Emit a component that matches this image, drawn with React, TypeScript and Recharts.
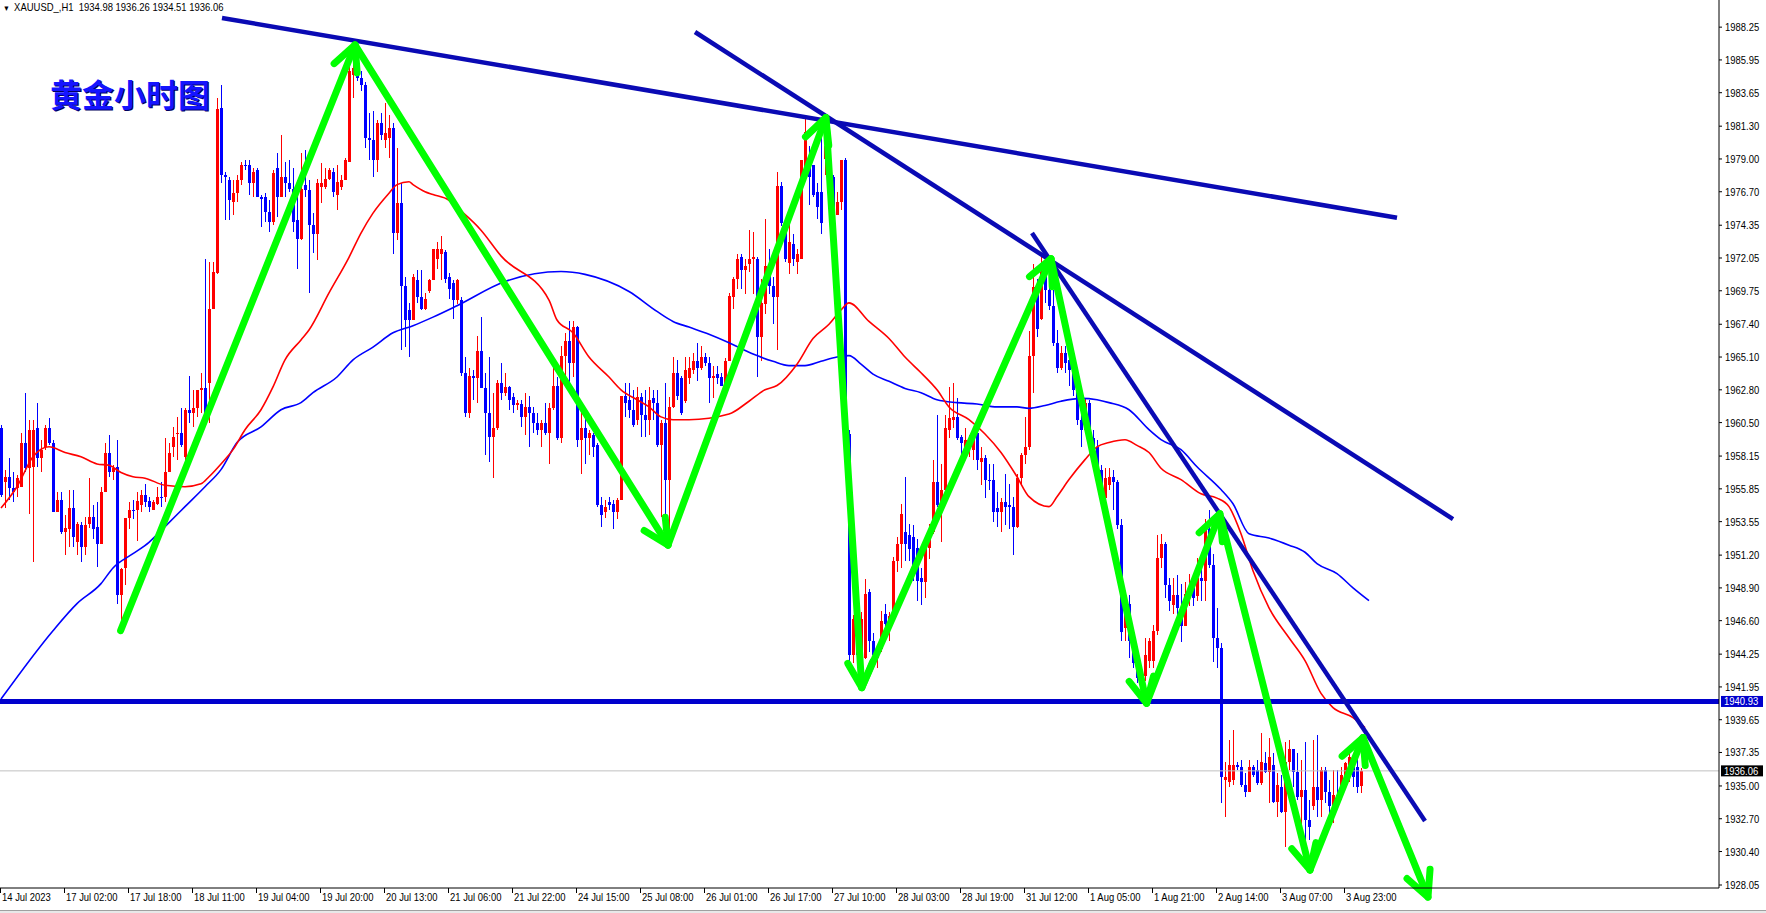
import React from 'react';
import { ComposedChart, Bar, Line, XAxis, YAxis, ReferenceLine } from 'recharts';

const CHART_W = 1766;
const CHART_H = 913;
const AXIS_FONT = "'Liberation Sans', 'DejaVu Sans', sans-serif";
const NARROW = 0.86; // the terminal font is narrower than anything installed

// H1 bars: [open, high, low, close]
const bars: [number, number, number, number][] = [
  [1960.1, 1960.3, 1955.3, 1955.4], [1956.3, 1957.2, 1954.5, 1956.7], [1956.7, 1958.0, 1955.1, 1955.9], [1955.9, 1957.0, 1954.9, 1955.6],
  [1955.9, 1956.8, 1955.3, 1956.6], [1956.0, 1959.8, 1956.0, 1959.1], [1959.1, 1962.6, 1957.0, 1957.3], [1957.3, 1960.7, 1954.1, 1960.0],
  [1957.4, 1960.7, 1950.7, 1960.0], [1960.1, 1961.9, 1957.4, 1958.0], [1958.0, 1959.3, 1957.0, 1958.6], [1958.8, 1960.3, 1958.6, 1960.1],
  [1960.1, 1960.8, 1958.9, 1959.1], [1959.1, 1959.3, 1954.2, 1954.2], [1954.2, 1955.6, 1954.2, 1955.1], [1955.1, 1955.6, 1952.7, 1952.8],
  [1952.8, 1954.0, 1951.2, 1953.1], [1953.0, 1955.8, 1951.8, 1954.5], [1954.5, 1955.8, 1951.8, 1952.5], [1952.1, 1953.5, 1951.2, 1953.4],
  [1953.3, 1953.5, 1950.7, 1951.8], [1951.8, 1953.9, 1951.2, 1953.3], [1953.4, 1956.6, 1953.1, 1953.9], [1953.9, 1954.7, 1952.3, 1953.0],
  [1953.2, 1954.9, 1950.4, 1952.0], [1952.0, 1956.0, 1952.0, 1955.6], [1955.6, 1959.1, 1955.6, 1958.4], [1958.4, 1959.6, 1956.7, 1957.0],
  [1957.0, 1957.5, 1956.5, 1957.3], [1957.4, 1959.3, 1947.8, 1948.4], [1948.4, 1950.3, 1946.4, 1950.2], [1950.3, 1953.8, 1949.1, 1953.8],
  [1953.8, 1954.9, 1953.0, 1954.4], [1954.4, 1955.1, 1953.7, 1954.3], [1954.4, 1955.6, 1952.2, 1955.0], [1954.7, 1955.8, 1954.2, 1955.4],
  [1955.4, 1956.2, 1954.6, 1954.9], [1955.0, 1955.3, 1954.2, 1954.6], [1954.4, 1955.1, 1954.4, 1954.9], [1954.8, 1956.0, 1954.7, 1955.3],
  [1955.3, 1956.3, 1954.6, 1955.2], [1955.3, 1959.4, 1954.9, 1957.0], [1957.0, 1959.1, 1957.0, 1958.4], [1958.8, 1960.2, 1958.1, 1959.5],
  [1959.7, 1960.9, 1957.9, 1959.8], [1959.8, 1961.5, 1958.8, 1958.9], [1958.1, 1961.5, 1957.6, 1961.4], [1961.4, 1963.8, 1960.5, 1961.2],
  [1961.2, 1962.8, 1960.2, 1961.5], [1961.5, 1962.8, 1960.9, 1962.8], [1962.8, 1964.0, 1961.2, 1962.9], [1962.9, 1972.0, 1961.2, 1961.2],
  [1963.3, 1971.8, 1960.5, 1968.5], [1968.5, 1971.8, 1968.5, 1971.1], [1971.0, 1983.3, 1970.9, 1982.5], [1982.6, 1984.2, 1977.3, 1977.9],
  [1977.9, 1978.1, 1974.7, 1977.7], [1977.5, 1977.7, 1974.7, 1976.1], [1976.0, 1977.5, 1975.1, 1976.6], [1976.6, 1977.9, 1976.0, 1977.5],
  [1977.5, 1978.8, 1977.2, 1978.6], [1978.6, 1978.9, 1978.2, 1978.5], [1978.6, 1978.9, 1976.5, 1977.3], [1977.3, 1978.4, 1976.3, 1978.1],
  [1978.2, 1978.4, 1976.3, 1976.3], [1976.3, 1976.5, 1974.2, 1976.2], [1976.3, 1976.6, 1974.6, 1975.3], [1975.3, 1976.1, 1973.9, 1974.6],
  [1974.6, 1978.2, 1974.4, 1978.0], [1978.4, 1979.4, 1974.9, 1976.3], [1976.3, 1980.7, 1976.3, 1977.7], [1977.7, 1978.8, 1976.3, 1977.3],
  [1977.3, 1978.9, 1976.7, 1976.9], [1976.9, 1978.4, 1973.9, 1974.6], [1974.7, 1977.5, 1971.3, 1973.4], [1973.4, 1979.4, 1973.3, 1976.9],
  [1977.2, 1979.6, 1976.3, 1976.8], [1976.8, 1977.5, 1969.6, 1974.4], [1974.4, 1975.2, 1972.4, 1973.7], [1973.7, 1977.6, 1971.9, 1977.3],
  [1977.0, 1978.7, 1975.9, 1977.3], [1977.0, 1978.4, 1976.9, 1977.6], [1977.6, 1978.4, 1977.5, 1978.2], [1978.1, 1978.4, 1976.3, 1976.7],
  [1976.5, 1978.6, 1975.4, 1977.4], [1977.0, 1977.9, 1976.8, 1977.5], [1977.5, 1979.1, 1977.5, 1978.9], [1978.8, 1985.6, 1978.8, 1985.2],
  [1984.9, 1987.0, 1983.3, 1985.4], [1985.4, 1986.9, 1984.5, 1984.7], [1984.7, 1985.2, 1983.8, 1984.2], [1984.2, 1984.4, 1979.8, 1980.5],
  [1980.5, 1982.2, 1978.9, 1980.3], [1980.3, 1982.4, 1977.7, 1978.9], [1978.9, 1981.7, 1978.1, 1981.5], [1981.5, 1982.2, 1980.3, 1980.7],
  [1980.3, 1982.9, 1979.8, 1980.8], [1980.5, 1982.1, 1979.1, 1981.2], [1981.2, 1981.5, 1972.3, 1973.8], [1973.8, 1979.8, 1973.3, 1975.9],
  [1975.9, 1977.3, 1965.6, 1970.1], [1970.1, 1970.7, 1965.8, 1967.7], [1968.4, 1968.9, 1965.1, 1967.7], [1967.7, 1970.9, 1967.7, 1970.7],
  [1970.5, 1971.2, 1968.9, 1969.3], [1969.3, 1971.2, 1968.4, 1968.5], [1968.5, 1969.6, 1968.4, 1969.2], [1969.7, 1970.6, 1969.6, 1970.5],
  [1970.5, 1972.7, 1970.5, 1972.7], [1972.0, 1973.2, 1971.3, 1972.7], [1972.3, 1973.6, 1970.5, 1972.7], [1972.5, 1972.6, 1970.3, 1970.6],
  [1970.7, 1971.0, 1969.2, 1969.9], [1970.3, 1970.5, 1967.8, 1969.1], [1969.1, 1970.6, 1968.8, 1970.5], [1969.1, 1969.3, 1963.8, 1964.0],
  [1964.0, 1965.1, 1960.9, 1961.2], [1961.2, 1964.3, 1960.8, 1963.8], [1963.8, 1964.2, 1962.1, 1963.6], [1963.6, 1966.6, 1961.9, 1965.5],
  [1965.5, 1967.9, 1962.9, 1962.9], [1962.9, 1964.0, 1958.2, 1961.2], [1961.2, 1965.1, 1957.7, 1959.5], [1959.5, 1962.6, 1956.6, 1960.1],
  [1960.1, 1963.5, 1960.0, 1963.3], [1963.3, 1964.7, 1962.1, 1962.6], [1962.6, 1964.0, 1962.4, 1963.0], [1963.0, 1963.1, 1961.4, 1962.1],
  [1962.3, 1962.6, 1961.2, 1961.7], [1961.7, 1962.1, 1961.4, 1961.9], [1961.8, 1962.1, 1960.2, 1960.9], [1960.9, 1962.6, 1959.6, 1961.6],
  [1961.6, 1962.4, 1958.8, 1961.2], [1961.2, 1961.6, 1959.8, 1960.5], [1960.5, 1961.2, 1959.6, 1960.0], [1960.0, 1960.7, 1958.8, 1960.5],
  [1960.5, 1961.9, 1959.6, 1959.8], [1959.8, 1961.9, 1957.6, 1961.5], [1961.5, 1964.7, 1961.4, 1963.1], [1963.1, 1963.7, 1959.3, 1959.4],
  [1959.4, 1965.9, 1959.1, 1965.2], [1965.2, 1966.8, 1963.7, 1966.2], [1966.2, 1967.6, 1963.1, 1964.7], [1964.7, 1967.6, 1963.7, 1967.2],
  [1967.2, 1967.3, 1958.8, 1959.3], [1959.3, 1961.7, 1956.9, 1960.1], [1960.1, 1960.9, 1957.6, 1959.4], [1959.4, 1960.0, 1958.2, 1959.8],
  [1959.6, 1959.8, 1958.1, 1958.8], [1958.9, 1959.1, 1954.6, 1954.7], [1954.7, 1955.3, 1953.2, 1954.0], [1954.2, 1955.1, 1953.8, 1954.6],
  [1954.9, 1955.3, 1954.4, 1954.7], [1954.8, 1955.1, 1953.0, 1954.2], [1954.2, 1955.2, 1953.7, 1955.1], [1955.1, 1962.4, 1955.1, 1962.4],
  [1962.4, 1963.3, 1960.9, 1961.9], [1962.1, 1963.3, 1960.8, 1961.4], [1961.4, 1962.8, 1960.2, 1960.3], [1960.7, 1963.0, 1960.3, 1962.3],
  [1962.3, 1962.6, 1959.5, 1961.0], [1961.0, 1962.8, 1959.5, 1960.7], [1960.7, 1963.0, 1959.6, 1962.1], [1962.2, 1962.8, 1960.7, 1961.9],
  [1961.9, 1962.8, 1958.8, 1958.9], [1958.9, 1960.7, 1953.9, 1960.5], [1960.5, 1963.3, 1953.7, 1956.5], [1956.5, 1962.3, 1953.0, 1961.6],
  [1961.6, 1965.1, 1961.5, 1964.0], [1964.0, 1964.9, 1962.1, 1962.4], [1963.6, 1963.8, 1961.0, 1961.2], [1962.0, 1965.1, 1961.9, 1964.2],
  [1963.6, 1965.1, 1963.2, 1964.3], [1964.2, 1965.4, 1963.9, 1964.8], [1964.8, 1966.1, 1963.4, 1964.3], [1964.3, 1965.9, 1964.2, 1965.1],
  [1965.1, 1965.4, 1964.5, 1964.7], [1964.7, 1965.1, 1961.9, 1963.6], [1963.6, 1964.5, 1962.2, 1963.8], [1963.9, 1964.5, 1963.2, 1963.6],
  [1963.7, 1964.0, 1963.1, 1963.1], [1963.1, 1965.0, 1962.8, 1964.8], [1964.8, 1969.6, 1964.8, 1969.4], [1969.3, 1970.7, 1968.5, 1970.6],
  [1970.6, 1972.3, 1969.9, 1972.0], [1972.1, 1972.3, 1969.9, 1971.2], [1971.2, 1972.0, 1969.5, 1971.5], [1971.6, 1974.0, 1971.1, 1972.0],
  [1972.0, 1973.9, 1969.5, 1972.1], [1972.0, 1972.1, 1963.7, 1966.5], [1966.5, 1970.6, 1964.8, 1968.9], [1968.8, 1974.8, 1968.1, 1971.5],
  [1970.9, 1972.7, 1969.5, 1970.1], [1970.1, 1970.7, 1967.4, 1969.3], [1969.3, 1978.1, 1965.6, 1977.1], [1977.1, 1977.4, 1974.3, 1974.5],
  [1974.5, 1974.8, 1971.8, 1972.0], [1971.7, 1974.5, 1970.9, 1973.2], [1973.0, 1973.7, 1971.5, 1972.0], [1971.8, 1972.7, 1970.9, 1972.3],
  [1972.0, 1978.9, 1972.0, 1978.9], [1977.7, 1981.8, 1977.7, 1980.9], [1978.9, 1979.9, 1975.8, 1977.7], [1978.6, 1978.6, 1976.3, 1976.5],
  [1976.7, 1977.3, 1974.8, 1975.6], [1976.7, 1980.9, 1973.7, 1974.5], [1979.0, 1981.4, 1977.9, 1979.9], [1979.8, 1980.9, 1975.6, 1975.9],
  [1977.7, 1977.9, 1973.4, 1975.1], [1975.1, 1976.7, 1975.1, 1976.0], [1976.0, 1978.9, 1975.4, 1978.9], [1978.9, 1979.1, 1957.8, 1960.0],
  [1959.7, 1960.0, 1943.3, 1944.2], [1944.2, 1947.0, 1943.6, 1946.7], [1946.7, 1948.7, 1943.8, 1944.2], [1944.0, 1947.2, 1943.6, 1946.7],
  [1944.0, 1949.5, 1943.9, 1948.5], [1948.6, 1948.8, 1944.4, 1945.2], [1945.2, 1945.7, 1943.4, 1944.2], [1944.0, 1944.9, 1943.3, 1944.6],
  [1944.6, 1947.3, 1944.4, 1946.6], [1947.1, 1947.8, 1945.7, 1946.4], [1946.2, 1947.2, 1945.2, 1946.9], [1946.7, 1951.1, 1946.7, 1950.8],
  [1950.8, 1952.5, 1950.0, 1952.0], [1952.0, 1954.8, 1950.3, 1954.1], [1952.8, 1956.7, 1950.8, 1952.0], [1952.6, 1953.4, 1950.8, 1951.6],
  [1952.5, 1953.3, 1949.4, 1950.2], [1951.7, 1952.3, 1948.0, 1949.4], [1949.6, 1950.3, 1947.7, 1949.3], [1949.3, 1952.3, 1948.2, 1951.7],
  [1951.7, 1953.4, 1950.9, 1952.8], [1952.8, 1957.9, 1952.7, 1956.3], [1956.3, 1961.0, 1954.6, 1954.7], [1954.9, 1957.6, 1952.1, 1955.8],
  [1955.8, 1961.0, 1955.8, 1960.1], [1960.0, 1963.0, 1959.4, 1960.8], [1960.7, 1963.3, 1960.1, 1960.9], [1960.9, 1962.2, 1959.3, 1959.4],
  [1959.5, 1959.6, 1957.3, 1959.1], [1958.6, 1960.1, 1958.4, 1959.3], [1958.9, 1959.6, 1958.1, 1959.1], [1958.6, 1960.1, 1957.9, 1960.0],
  [1959.8, 1960.0, 1957.2, 1957.9], [1957.7, 1958.8, 1956.1, 1958.0], [1958.0, 1958.2, 1955.2, 1956.5], [1956.5, 1957.6, 1955.8, 1956.4],
  [1956.5, 1957.6, 1953.5, 1954.2], [1954.5, 1955.6, 1953.2, 1954.2], [1954.2, 1955.2, 1952.8, 1954.9], [1954.9, 1956.9, 1953.3, 1954.6],
  [1954.7, 1956.2, 1953.0, 1954.6], [1954.6, 1955.3, 1951.2, 1953.2], [1953.2, 1956.9, 1953.1, 1956.6], [1956.6, 1958.4, 1956.1, 1958.2],
  [1958.2, 1960.9, 1957.6, 1958.8], [1958.8, 1966.9, 1958.6, 1965.2], [1965.2, 1971.6, 1962.6, 1970.0], [1970.0, 1970.6, 1966.5, 1967.1],
  [1967.8, 1972.1, 1967.7, 1971.1], [1971.1, 1971.6, 1968.9, 1969.8], [1969.8, 1970.5, 1968.4, 1968.7], [1968.7, 1969.8, 1965.9, 1966.1],
  [1966.1, 1967.0, 1964.0, 1964.3], [1964.3, 1965.9, 1964.2, 1965.4], [1965.4, 1965.9, 1964.0, 1964.7], [1964.9, 1965.6, 1963.1, 1964.2],
  [1964.2, 1964.5, 1962.4, 1962.8], [1962.8, 1963.1, 1960.3, 1960.7], [1960.7, 1961.4, 1958.8, 1960.0], [1960.0, 1962.2, 1959.8, 1961.9],
  [1961.9, 1962.1, 1958.9, 1959.4], [1959.4, 1960.0, 1958.2, 1958.8], [1958.8, 1959.3, 1956.5, 1957.2], [1957.2, 1957.5, 1954.7, 1955.2],
  [1955.2, 1957.3, 1955.1, 1956.6], [1956.1, 1957.3, 1955.8, 1956.7], [1956.7, 1957.2, 1954.4, 1956.3], [1956.3, 1956.5, 1953.0, 1953.3],
  [1953.3, 1953.7, 1945.2, 1945.8], [1946.1, 1948.0, 1945.2, 1947.8], [1947.8, 1948.4, 1944.0, 1945.2], [1945.2, 1945.9, 1943.3, 1943.6],
  [1943.6, 1944.2, 1942.2, 1942.6], [1942.6, 1943.1, 1940.8, 1942.4], [1942.7, 1945.4, 1942.4, 1944.2], [1943.8, 1945.4, 1943.3, 1945.2],
  [1943.8, 1946.3, 1943.3, 1945.9], [1945.9, 1952.6, 1945.6, 1951.0], [1951.0, 1952.7, 1950.3, 1952.0], [1952.0, 1952.1, 1948.2, 1949.1],
  [1949.1, 1949.6, 1947.3, 1948.0], [1947.7, 1949.6, 1947.1, 1948.4], [1948.4, 1949.8, 1946.8, 1947.5], [1947.5, 1949.2, 1945.1, 1946.2],
  [1946.2, 1949.3, 1946.2, 1948.5], [1948.3, 1949.9, 1947.6, 1948.9], [1948.9, 1949.2, 1947.6, 1948.2], [1948.3, 1951.0, 1948.0, 1949.6],
  [1949.6, 1950.9, 1948.0, 1949.4], [1949.4, 1953.7, 1948.0, 1953.0], [1953.0, 1954.4, 1950.3, 1950.5], [1950.5, 1951.3, 1943.7, 1945.4],
  [1945.4, 1947.5, 1943.3, 1944.7], [1944.7, 1945.0, 1933.8, 1935.6], [1935.4, 1936.7, 1932.8, 1935.6], [1935.3, 1938.2, 1934.9, 1936.5],
  [1935.4, 1938.9, 1935.1, 1936.5], [1936.5, 1936.7, 1936.1, 1936.3], [1936.3, 1936.8, 1934.9, 1935.1], [1935.1, 1935.9, 1934.2, 1934.6],
  [1934.6, 1936.8, 1934.6, 1936.3], [1936.3, 1936.5, 1935.6, 1935.8], [1936.1, 1936.8, 1935.1, 1935.2], [1935.2, 1938.7, 1935.1, 1936.7],
  [1936.6, 1937.4, 1935.9, 1936.0], [1936.0, 1938.4, 1933.8, 1937.0], [1936.5, 1937.3, 1933.8, 1933.9], [1933.9, 1935.9, 1932.8, 1935.1],
  [1934.9, 1935.8, 1933.1, 1933.2], [1933.2, 1938.1, 1930.7, 1936.7], [1936.7, 1938.2, 1936.1, 1937.6], [1937.6, 1937.6, 1934.9, 1936.0],
  [1936.0, 1937.3, 1934.0, 1934.2], [1934.2, 1936.8, 1931.5, 1934.7], [1934.7, 1938.1, 1931.2, 1932.6], [1932.6, 1934.0, 1931.2, 1932.1],
  [1933.6, 1938.2, 1933.3, 1934.9], [1934.9, 1938.6, 1932.8, 1934.0], [1934.0, 1936.3, 1932.8, 1936.1], [1936.1, 1936.3, 1933.8, 1934.6],
  [1934.6, 1935.4, 1932.6, 1933.6], [1932.8, 1936.1, 1932.4, 1934.4], [1934.4, 1936.1, 1933.8, 1933.9], [1934.2, 1936.3, 1934.0, 1935.8],
  [1935.6, 1936.7, 1935.4, 1936.6], [1936.5, 1937.4, 1935.3, 1937.0], [1936.3, 1937.2, 1934.9, 1935.6], [1936.3, 1937.0, 1934.5, 1934.9],
  [1934.98, 1936.26, 1934.51, 1936.06],
];

// one label every 16 bars
const LABEL_STEP = 16;
const timeLabels = [
  '14 Jul 2023', '17 Jul 02:00', '17 Jul 18:00', '18 Jul 11:00', '19 Jul 04:00', '19 Jul 20:00', '20 Jul 13:00', '21 Jul 06:00',
  '21 Jul 22:00', '24 Jul 15:00', '25 Jul 08:00', '26 Jul 01:00', '26 Jul 17:00', '27 Jul 10:00', '28 Jul 03:00', '28 Jul 19:00',
  '31 Jul 12:00', '1 Aug 05:00', '1 Aug 21:00', '2 Aug 14:00', '3 Aug 07:00', '3 Aug 23:00',
];

const priceTicks = [
  1928.05, 1930.40, 1932.70, 1935.00, 1937.35, 1939.65, 1941.95, 1944.25, 1946.60, 1948.90, 1951.20, 1953.55, 1955.85, 1958.15,
  1960.50, 1962.80, 1965.10, 1967.40, 1969.75, 1972.05, 1974.35, 1976.70, 1979.00, 1981.30, 1983.65, 1985.95, 1988.25,
];

// moving averages: [bar index, price]
const fastMa: [number, number][] = [
  [0, 1954.5], [4, 1956.0], [8, 1958.1], [12, 1958.8], [16, 1958.4], [20, 1958.1], [24, 1957.6], [27, 1957.5], [30, 1957.0],
  [33, 1956.7], [36, 1956.6], [41, 1956.1], [46, 1956.0], [50, 1956.2], [52, 1956.7], [55, 1957.6], [58, 1958.6], [61, 1960.0],
  [65, 1961.4], [68, 1963.0], [71, 1964.9], [75, 1966.3], [77, 1967.0], [82, 1969.6], [87, 1972.1], [90, 1973.8], [93, 1975.2],
  [97, 1976.6], [99, 1977.2], [102, 1977.4], [103, 1977.2], [106, 1976.7], [108, 1976.5], [112, 1976.1], [114, 1975.6], [120, 1974.0],
  [125, 1972.2], [137, 1969.1], [139, 1967.7], [143, 1966.8], [147, 1965.1], [152, 1963.7], [155, 1962.8], [159, 1962.1], [162, 1961.6],
  [165, 1960.9], [168, 1960.7], [172, 1960.7], [182, 1961.1], [187, 1962.0], [191, 1962.8], [194, 1963.1], [199, 1964.6], [203, 1966.4],
  [207, 1967.4], [210, 1968.4], [212, 1968.9], [217, 1967.6], [222, 1966.4], [226, 1965.1], [230, 1964.0], [234, 1962.8], [237, 1961.6],
  [242, 1960.7], [246, 1959.7], [250, 1958.4], [254, 1956.7], [257, 1955.3], [262, 1954.6], [264, 1955.3], [267, 1956.5], [271, 1957.9],
  [274, 1958.8], [277, 1959.1], [281, 1959.3], [284, 1958.9], [287, 1958.4], [290, 1957.3], [295, 1956.5], [300, 1955.5], [304, 1955.2],
  [307, 1954.6], [310, 1952.7], [313, 1950.1], [317, 1947.5], [322, 1945.4], [326, 1943.8], [330, 1941.5], [333, 1940.5], [338, 1939.8],
  [341, 1939.1],
];
const slowMa: [number, number][] = [
  [0, 1941.1], [13, 1945.9], [19, 1947.8], [25, 1949.2], [28, 1950.3], [33, 1951.3], [37, 1952.1], [41, 1953.2], [46, 1954.6],
  [51, 1956.0], [55, 1957.2], [59, 1959.1], [65, 1960.2], [70, 1961.4], [75, 1961.9], [78, 1962.6], [84, 1963.7], [88, 1964.9],
  [93, 1965.8], [98, 1966.8], [103, 1967.3], [108, 1967.9], [114, 1968.7], [126, 1970.4], [140, 1971.1], [146, 1970.9], [157, 1969.7],
  [164, 1968.3], [168, 1967.6], [172, 1967.2], [177, 1966.7], [182, 1966.1], [185, 1965.7], [189, 1965.2], [193, 1964.8], [197, 1964.5],
  [201, 1964.5], [205, 1964.8], [209, 1965.1], [212, 1965.2], [215, 1964.6], [218, 1963.9], [222, 1963.4], [226, 1962.9], [230, 1962.6],
  [234, 1962.1], [239, 1961.9], [244, 1961.8], [249, 1961.6], [254, 1961.6], [257, 1961.5], [261, 1961.7], [265, 1962.0], [270, 1962.2],
  [274, 1962.1], [277, 1961.9], [282, 1961.4], [287, 1960.0], [290, 1959.3], [295, 1958.6], [299, 1957.4], [305, 1955.8], [308, 1954.8],
  [312, 1952.7], [317, 1952.4], [322, 1951.9], [326, 1951.4], [329, 1950.6], [334, 1949.9], [338, 1948.9], [342, 1948.0],
];

// hand-drawn trend lines: [bar, price, bar, price]
const trendLines: [number, number, number, number][] = [
  [55.25, 1988.89, 349, 1974.88],
  [173.5, 1987.91, 363, 1953.73],
  [257.75, 1973.8, 356, 1932.55],
];

// green zig-zag arrows, vertices as [bar, price]
const zigzag: [number, number][] = [
  [29.9, 1945.9], [88.5, 1987.0], [166.75, 1951.9], [206.2, 1981.9], [215.2, 1941.9], [262.5, 1972.0],
  [286.4, 1940.8], [304.7, 1954.1], [327.25, 1929.1], [340.5, 1938.4], [356.75, 1927.2],
];

const supportLevel = 1940.93;
const lastPrice = 1936.06;
const headerText = 'XAUUSD_,H1  1934.98 1936.26 1934.51 1936.06';
const titleText = '黄金小时图';

const X_DOMAIN: [number, number] = [-0.25, 429.5];
const Y_DOMAIN: [number, number] = [1927.84, 1990.155];

const candleRows = bars.map(([o, h, l, c], i) => ({ i, o, h, l, c, range: [l, h] }));
const fastRows = fastMa.map(([i, v]) => ({ i, v }));
const slowRows = slowMa.map(([i, v]) => ({ i, v }));

const Candle = (props: any) => {
  const { x, y, width, height, payload } = props;
  if (!payload || payload.o == null) return null;
  const { o, h, l, c } = payload;
  const top = height < 0 ? y + height : y;
  const hh = Math.abs(height);
  const span = h - l || 1;
  const py = (v: number) => top + ((h - v) / span) * hh;
  const up = c > o;
  const color = up ? '#ff0000' : '#0000ff';
  const cx = Math.round(x + width / 2);
  const bTop = py(Math.max(o, c));
  const bBot = py(Math.min(o, c));
  return (
    <g shapeRendering="crispEdges">
      <rect x={cx} y={top} width={1} height={Math.max(hh, 1)} fill={color} />
      <rect x={cx - 1} y={bTop} width={3} height={Math.max(bBot - bTop, 1)} fill={color} />
    </g>
  );
};

const ArrowShape = (props: any) => {
  const { x1, y1, x2, y2 } = props;
  const ang = Math.atan2(y2 - y1, x2 - x1);
  const len = 28;
  const spread = 0.46;
  const bx1 = x2 - len * Math.cos(ang - spread);
  const by1 = y2 - len * Math.sin(ang - spread);
  const bx2 = x2 - len * Math.cos(ang + spread);
  const by2 = y2 - len * Math.sin(ang + spread);
  return (
    <g stroke="#00ff00" strokeWidth={7} fill="none" strokeLinejoin="round" strokeLinecap="round">
      <line x1={x1} y1={y1} x2={x2} y2={y2} />
      <polyline points={`${bx1},${by1} ${x2},${y2} ${bx2},${by2}`} />
    </g>
  );
};

const NarrowText = ({ x, y, children, fill = '#000' }: any) => (
  <text transform={`translate(${x},${y}) scale(${NARROW},1)`} fontSize={11} fontFamily={AXIS_FONT} fill={fill} textAnchor="start">
    {children}
  </text>
);

const PriceTag = ({ viewBox, value, bg }: any) => {
  const x = 1721;
  const y = viewBox.y;
  return (
    <g>
      <rect x={x} y={y - 5.5} width={42} height={11} fill={bg} />
      <NarrowText x={x + 3} y={y + 4} fill="#ffffff">{value.toFixed(2)}</NarrowText>
    </g>
  );
};

const PriceTick = (props: any) => {
  const { x, y, payload } = props;
  return <NarrowText x={x} y={y + 4}>{Number(payload.value).toFixed(2)}</NarrowText>;
};

const TimeTick = (props: any) => {
  const { x, y, payload } = props;
  const label = timeLabels[Math.round(payload.value / LABEL_STEP)];
  return (
    <g>
      <line x1={x - 0.5} x2={x - 0.5} y1={y} y2={y + 5} stroke="#000" />
      <NarrowText x={x + 1} y={y + 13}>{label}</NarrowText>
    </g>
  );
};

export default function App() {
  return (
    <div style={{ position: 'relative', width: CHART_W, height: CHART_H, background: '#fff', overflow: 'hidden' }}>
      <style>{'body{margin:0}'}</style>
      <ComposedChart width={CHART_W} height={CHART_H} data={candleRows} margin={{ top: 0, right: 0, bottom: 0, left: 0 }}>
        <XAxis
          dataKey="i"
          type="number"
          domain={X_DOMAIN}
          allowDataOverflow
          ticks={timeLabels.map((_, k) => k * LABEL_STEP)}
          interval={0}
          height={25}
          tickLine={false}
          tickSize={0}
          tickMargin={0}
          axisLine={{ stroke: '#000' }}
          tick={<TimeTick />}
        />
        <YAxis
          orientation="right"
          type="number"
          domain={Y_DOMAIN}
          allowDataOverflow
          ticks={priceTicks}
          interval={0}
          width={47}
          tickSize={3}
          tickMargin={3}
          axisLine={{ stroke: '#000' }}
          tickLine={{ stroke: '#000' }}
          tick={<PriceTick />}
        />
        <Bar dataKey="range" barSize={3} shape={<Candle />} isAnimationActive={false} />
        <Line data={slowRows} dataKey="v" type="monotone" stroke="#0000ff" strokeWidth={1.6} dot={false} activeDot={false} isAnimationActive={false} />
        <Line data={fastRows} dataKey="v" type="monotone" stroke="#ff0000" strokeWidth={1.6} dot={false} activeDot={false} isAnimationActive={false} />

        <ReferenceLine
          y={lastPrice}
          stroke="#c0c0c0"
          strokeWidth={1}
          label={(p: any) => <PriceTag viewBox={p.viewBox} value={lastPrice} bg="#000000" />}
        />
        <ReferenceLine
          y={supportLevel}
          stroke="#0000cd"
          strokeWidth={5}
          label={(p: any) => <PriceTag viewBox={p.viewBox} value={supportLevel} bg="#0000cd" />}
        />
        {trendLines.map(([a, pa, b, pb], k) => (
          <ReferenceLine
            key={`tl-${k}`}
            segment={[{ x: a, y: pa }, { x: b, y: pb }]}
            stroke="#0a0ab4"
            strokeWidth={4.5}
            ifOverflow="visible"
          />
        ))}
        {zigzag.slice(1).map(([b, p], k) => (
          <ReferenceLine
            key={`zz-${k}`}
            segment={[{ x: zigzag[k][0], y: zigzag[k][1] }, { x: b, y: p }]}
            ifOverflow="visible"
            shape={(sp: any) => <ArrowShape {...sp} />}
          />
        ))}
      </ComposedChart>

      <div
        style={{
          position: 'absolute', left: 3, top: 0, fontFamily: AXIS_FONT, fontSize: 11, lineHeight: '14px',
          color: '#000', whiteSpace: 'pre', transform: `scaleX(${NARROW})`, transformOrigin: '0 0',
        }}
      >
        <span style={{ fontSize: 8, marginRight: 5 }}>▼</span>
        {headerText}
      </div>
      <div
        style={{
          position: 'absolute', left: 50, top: 77, fontFamily: "'Noto Sans CJK SC', sans-serif", fontWeight: 700,
          fontSize: 32, lineHeight: '32px', color: '#1414ff', textShadow: '1px 1px 0 #000060', whiteSpace: 'pre',
        }}
      >
        {titleText}
      </div>
      <div style={{ position: 'absolute', left: 0, top: 910, width: CHART_W, height: 3, background: '#e8e8e8', borderTop: '1px solid #a0a0a0' }} />
    </div>
  );
}
